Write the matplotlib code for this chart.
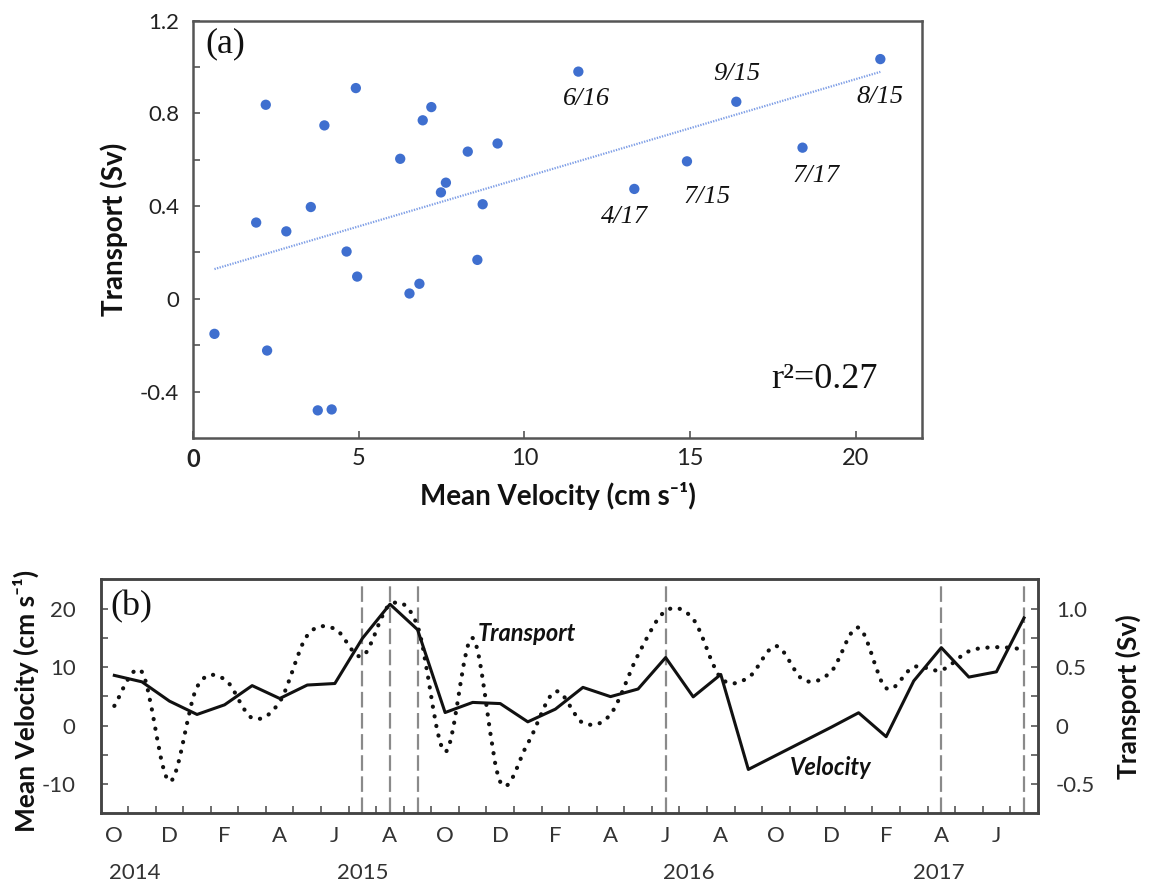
import matplotlib
matplotlib.use('Agg')
import matplotlib.pyplot as plt
import numpy as np
import pandas as pd
from matplotlib.path import Path
from matplotlib.patches import PathPatch
from matplotlib.transforms import blended_transform_factory

plt.rcParams['font.family'] = ['Lato', 'DejaVu Sans']
plt.rcParams['axes.unicode_minus'] = False

# monthly series, Oct 2014 .. Jul 2017
months = pd.date_range('2014-10-01', periods=34, freq='MS')
velocity = [8.58, 7.48, 4.18, 1.90, 3.55, 6.83, 4.63, 6.93, 7.19, 14.91,
            20.75, 16.40, 2.23, 3.96, 3.76, 0.64, 2.81, 6.53, 4.95, 6.25,
            11.63, 4.91, 8.74, -7.5, -5.1, -2.7, -0.3, 2.19, -1.9, 7.63,
            13.32, 8.29, 9.19, 18.40]
transport = [0.168, 0.459, -0.477, 0.329, 0.396, 0.065, 0.204, 0.770, 0.827, 0.593,
             1.034, 0.850, -0.223, 0.748, -0.481, -0.151, 0.291, 0.023, 0.096, 0.604,
             0.980, 0.909, 0.408, 0.41, 0.68, 0.39, 0.46, 0.837, 0.32, 0.501,
             0.474, 0.635, 0.670, 0.652]

highlight = ['7/15', '8/15', '9/15', '6/16', '4/17', '7/17']
month_letters = ['O', 'D', 'F', 'A', 'J', 'A', 'O', 'D', 'F', 'A', 'J', 'A', 'O', 'D', 'F', 'A', 'J']
years = ['2014', '2015', '2016', '2017']
r2_text = 'r\u00b2=0.27'

# label offsets (pixels) for the annotated points
label_off = {'6/16': (8, -27), '9/15': (0, 28), '8/15': (0, -38),
             '4/17': (-10, -28), '7/15': (20, -36), '7/17': (13, -28)}
year_x = [0.75, 9.0, 20.85, 29.9]

vel = np.array(velocity)
tr = np.array(transport)
tags = [f'{d.month}/{d.year % 100}' for d in months]
idx = np.arange(len(months))

fig = plt.figure(figsize=(11.49, 8.88), dpi=100)

# ---------------- (a) scatter ----------------
ax1 = fig.add_axes([0.1682, 0.5068, 0.634, 0.470])
pos = vel > 0
xs, ys = vel[pos], tr[pos]
ax1.scatter(xs, ys, s=55, color='#3F6FCF', edgecolors='none', zorder=3)
m, b = np.polyfit(xs, ys, 1)
xl = np.array([xs.min(), xs.max()])
ax1.plot(xl, m * xl + b, ls=(0, (0.6, 0.6)), color='#7E9EE6', lw=1.6, zorder=2)

for t in highlight:
    i = tags.index(t)
    ax1.annotate(t, (vel[i], tr[i]), xytext=label_off[t], textcoords='offset pixels',
                 ha='center', va='center', fontsize=19, style='italic',
                 family='Liberation Serif', color='#111')

ax1.set_xlim(0, 22)
ax1.set_ylim(-0.6, 1.2)
ax1.set_xticks([0, 5, 10, 15, 20], ['0', '5', '10', '15', '20'])
ax1.set_yticks([-0.4, 0, 0.4, 0.8, 1.2], ['-0.4', '0', '0.4', '0.8', '1.2'])
ax1.set_yticks([-0.2, 0.2, 0.6, 1.0], minor=True)
ax1.tick_params(which='both', direction='in', length=5, width=1.2, color='#555')
ax1.tick_params(axis='y', labelsize=16, pad=10, labelcolor='#222')
ax1.tick_params(axis='x', labelsize=17, pad=7, labelcolor='#222')
ax1.get_xticklabels()[0].set_fontweight('bold')
for s in ax1.spines.values():
    s.set_color('#555')
    s.set_linewidth(1.8)

ax1.set_xlabel('Mean Velocity (cm s\u207b\u00b9)', fontsize=20, fontweight='bold', color='#111')
ax1.set_ylabel('Transport (Sv)', fontsize=20, fontweight='bold', color='#111')
ax1.xaxis.set_label_coords(0.5, -0.105)
ax1.yaxis.set_label_coords(-0.09, 0.5)

ax1.text(0.016, 0.985, '(a)', transform=ax1.transAxes, ha='left', va='top',
         fontsize=26, family='Liberation Serif', color='#111')
ax1.text(0.794, 0.139, r2_text, transform=ax1.transAxes, ha='left', va='center',
         fontsize=26, family='Liberation Serif', color='#111')

# ---------------- (b) time series ----------------
ax2 = fig.add_axes([0.0875, 0.0841, 0.8157, 0.2635])
ax3 = ax2.twinx()

ax2.set_xlim(-0.5, len(months) - 0.5)
ax2.set_ylim(-15, 25)
ax3.set_ylim(-0.75, 1.25)

for t in highlight:
    ax2.axvline(tags.index(t), color='#8a8a8a', lw=1.6, ls=(0, (7, 2.5)), zorder=1)

ax2.plot(idx, vel, color='#111', lw=2.2, zorder=3)

# smooth dotted transport curve (bezier through monthly values)
pts = np.column_stack([idx, tr])
verts = [pts[0]]
codes = [Path.MOVETO]
n = len(pts)
for i in range(n - 1):
    p0 = pts[max(i - 1, 0)]
    p1 = pts[i]
    p2 = pts[i + 1]
    p3 = pts[min(i + 2, n - 1)]
    verts += [p1 + (p2 - p0) / 6, p2 - (p3 - p1) / 6, p2]
    codes += [Path.CURVE4] * 3
ax3.add_patch(PathPatch(Path(verts, codes), fill=False, lw=3, color='#111',
                        ls=(0, (0.05, 2.3)), capstyle='round', zorder=3))

ax2.set_yticks([-10, 0, 10, 20], ['-10', '0', '10', '20'])
ax2.set_yticks([-5, 5, 15], minor=True)
ax3.set_yticks([-0.5, 0, 0.5, 1.0], ['-0.5', '0', '0.5', '1.0'])
ax3.set_yticks([-0.25, 0.25, 0.75], minor=True)
ax2.set_xticks(np.arange(0.5, len(months) - 0.5), [''] * (len(months) - 1))
ax2.set_xticks(idx[::2], month_letters, minor=True)
ax2.tick_params(which='both', direction='in', length=5, width=1.2, color='#555')
ax2.tick_params(axis='x', which='minor', length=0, labelsize=16, pad=9, labelcolor='#333')
ax2.tick_params(axis='y', labelsize=16, pad=18, labelcolor='#333')
ax3.tick_params(which='both', direction='in', length=5, width=1.2, color='#555',
                labelsize=16, pad=13, labelcolor='#333')
for a in (ax2, ax3):
    for s in a.spines.values():
        s.set_color('#444')
        s.set_linewidth(1.8)

ax2.set_ylabel('Mean Velocity (cm s\u207b\u00b9)', fontsize=19, fontweight='bold', color='#111')
ax2.yaxis.set_label_coords(-0.066, 0.48)
ax3.set_ylabel('Transport (Sv)', fontsize=19, fontweight='bold', color='#111')
ax3.yaxis.set_label_coords(1.083, 0.5)

trans = blended_transform_factory(ax2.transData, ax2.transAxes)
for yr, xp in zip(years, year_x):
    ax2.text(xp, -0.255, yr, transform=trans, ha='center', va='center',
             fontsize=16, color='#333')

ax2.text(0.010, 0.955, '(b)', transform=ax2.transAxes, ha='left', va='top',
         fontsize=26, family='Liberation Serif', color='#111')
ax2.text(13.2, 15.8, 'Transport', ha='left', va='center', fontsize=17,
         fontweight='bold', style='italic', color='#111')
ax2.text(24.5, -7.1, 'Velocity', ha='left', va='center', fontsize=17,
         fontweight='bold', style='italic', color='#111')

fig.savefig('out.png', dpi=100)
